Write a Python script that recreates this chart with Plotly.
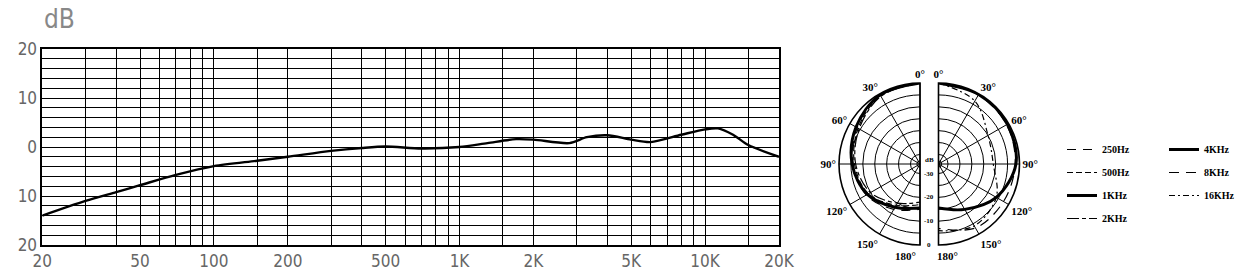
import numpy as np
import plotly.graph_objects as go

# ---------------- data ----------------
freq_hz = [20, 30, 40, 50, 70, 100, 150, 200, 300, 400, 500, 700, 1000, 1300, 1700,
           2000, 2800, 3300, 4000, 5000, 6000, 8000, 10000, 11300, 13000, 15000, 20000]
response_db = [-14.0, -11.0, -9.2, -7.8, -5.7, -3.9, -2.8, -2.0, -0.8, -0.2, 0.1, -0.3, 0.0,
               0.8, 1.6, 1.5, 0.8, 2.0, 2.4, 1.5, 1.0, 2.5, 3.6, 3.8, 2.5, 0.4, -2.0]

grid_freqs = [20, 30, 40, 50, 60, 70, 80, 90, 100, 150, 200, 300, 400, 500, 600, 700, 800, 900,
              1000, 1500, 2000, 3000, 4000, 5000, 6000, 7000, 8000, 9000, 10000, 15000, 20000]
freq_labels = {20: "20", 50: "50", 100: "100", 200: "200", 500: "500", 1000: "1K",
               2000: "2K", 5000: "5K", 10000: "10K", 20000: "20K"}
db_grid = list(range(-20, 21, 2))
db_labels = {-20: "20", -10: "10", 0: "0", 10: "10", 20: "20"}

polar_angles = [0, 30, 60, 90, 120, 150, 180]
left_series = {
    "250Hz": [0, -0.8, -3.5, -6.0, -8.0, -12.0, -15.0],
    "500Hz": [0, -1.0, -4.0, -6.5, -9.0, -14.0, -17.0],
    "1KHz":  [0, -0.5, -3.0, -5.5, -8.5, -13.0, -15.5],
    "2KHz":  [0, -1.2, -4.5, -7.0, -10.0, -15.0, -18.0],
}
right_series = {
    "4KHz":  [0, -0.3, -0.6, -1.5, -6.0, -12.0, -15.5],
    "8KHz":  [0, -0.5, -1.0, -1.8, -2.5, -3.0, -7.0],
    "16KHz": [0, -3.5, -10.0, -11.0, -6.0, -4.0, -6.0],
}
polar_db_min = -34
ring_db = [-32.7, -30, -25, -20, -15, -10, -5, 0]
ring_label_db = [-30, -20, -10, 0]
ring_label_text = ["-30", "-20", "-10", "0"]
angle_labels = ["0°", "30°", "60°", "90°", "120°", "150°", ""]
bottom_label = "180°"

styles = {
    "250Hz": dict(width=1.2, dash="9px,7px"),
    "500Hz": dict(width=1.2, dash="6px,3px"),
    "1KHz":  dict(width=3, dash="solid"),
    "2KHz":  dict(width=1.2, dash="12px,3px,4px,3px"),
    "4KHz":  dict(width=3, dash="solid"),
    "8KHz":  dict(width=1.2, dash="10px,7px"),
    "16KHz": dict(width=1.2, dash="6px,3px,2px,3px"),
}

W, H = 1239, 280
GRAY = "#666666"
TICKFONT = dict(family="DejaVu Sans Condensed", size=17, color=GRAY)
SERIF_B = dict(family="Liberation Serif, DejaVu Serif, serif", size=10, color="black", weight="bold")
SMALL_B = dict(family=SERIF_B["family"], size=7, color="black", weight="bold")
ANGFONT = dict(SERIF_B, size=11)

# polar subplot geometry (pixels; y measured from bottom of figure)
POL_Y0, POL_Y1 = 35, 197
POL_CY = (POL_Y0 + POL_Y1) / 2
POL_R = (POL_Y1 - POL_Y0) / 2
LEFT_X0, LEFT_X1 = 839, 920
RIGHT_X0, RIGHT_X1 = 938, 1020

fig = go.Figure()

fig.add_trace(go.Scatter(x=freq_hz, y=response_db, mode="lines",
                         line=dict(color="black", width=2.4, shape="spline", smoothing=0.8),
                         showlegend=False, hoverinfo="skip"))

for name, vals in left_series.items():
    fig.add_trace(go.Scatterpolar(theta=polar_angles, r=vals, subplot="polar", mode="lines",
                                  name=name, legend="legend", legendgroup=name,
                                  line=dict(color="black", shape="spline", **styles[name])))
for name, vals in right_series.items():
    fig.add_trace(go.Scatterpolar(theta=polar_angles, r=vals, subplot="polar2", mode="lines",
                                  name=name, legend="legend2", legendgroup=name,
                                  line=dict(color="black", shape="spline", **styles[name])))

annotations = [
    dict(text="dB", xref="paper", yref="paper", x=42 / W, y=1 - 19 / H,
         xanchor="left", yanchor="middle", showarrow=False,
         font=dict(family=TICKFONT["family"], size=26, color="#888888")),
    dict(text="dB", xref="paper", yref="paper", x=929 / W, y=(POL_CY + 4) / H,
         xanchor="center", yanchor="middle", showarrow=False, font=SMALL_B),
    dict(text=bottom_label, xref="paper", yref="paper", x=(LEFT_X1 - 2) / W,
         y=(POL_Y0 - 3) / H, xanchor="right", yanchor="top", showarrow=False, font=ANGFONT),
    dict(text=bottom_label, xref="paper", yref="paper", x=(RIGHT_X0 - 3) / W,
         y=(POL_Y0 - 3) / H, xanchor="left", yanchor="top", showarrow=False, font=ANGFONT),
]
for v, t in zip(ring_label_db, ring_label_text):
    rpx = POL_R * (v - polar_db_min) / (0 - polar_db_min)
    annotations.append(dict(text=t, xref="paper", yref="paper", x=929.5 / W,
                            y=(POL_CY - rpx) / H, xanchor="center", yanchor="middle",
                            showarrow=False, font=SMALL_B))

fig.update_layout(
    width=W, height=H, margin=dict(l=0, r=0, t=0, b=0, autoexpand=False),
    paper_bgcolor="white", plot_bgcolor="white",
    xaxis=dict(type="log", range=[np.log10(20), np.log10(20000)],
               domain=[42.3 / W, 779 / W],
               tickvals=grid_freqs, ticktext=[freq_labels.get(f, "") for f in grid_freqs],
               showgrid=True, gridcolor="black", gridwidth=1.4,
               showline=True, linecolor="black", linewidth=1.6, mirror=True,
               ticks="", tickfont=TICKFONT, zeroline=False, fixedrange=True),
    yaxis=dict(range=[-20, 20], domain=[35 / H, 231 / H],
               tickvals=db_grid, ticktext=[db_labels.get(v, "") for v in db_grid],
               showgrid=True, gridcolor="black", gridwidth=1.4,
               showline=True, linecolor="black", linewidth=1.6, mirror=True,
               ticks="", tickfont=TICKFONT, zeroline=False, fixedrange=True),
    annotations=annotations,
    showlegend=True,
    legend=dict(x=1062 / W, y=1 - 135 / H, xanchor="left", yanchor="top",
                orientation="v", tracegroupgap=4, font=SERIF_B, bgcolor="rgba(0,0,0,0)",
                itemclick=False, itemdoubleclick=False),
    legend2=dict(x=1164 / W, y=1 - 135 / H, xanchor="left", yanchor="top",
                 orientation="v", tracegroupgap=4, font=SERIF_B, bgcolor="rgba(0,0,0,0)",
                 itemclick=False, itemdoubleclick=False),
)

common_radial = dict(range=[polar_db_min, 0], tickvals=ring_db, showgrid=True, gridcolor="black",
                     gridwidth=1.3, showline=False, ticks="", showticklabels=False)
common_ang = dict(rotation=90, tickvals=polar_angles, ticktext=angle_labels,
                  showgrid=True, gridcolor="black", gridwidth=1.1,
                  showline=True, linecolor="black", linewidth=1.6, ticks="",
                  tickfont=ANGFONT)

fig.update_layout(
    polar=dict(domain=dict(x=[LEFT_X0 / W, LEFT_X1 / W], y=[POL_Y0 / H, POL_Y1 / H]),
               sector=[90, 270], bgcolor="white",
               radialaxis=common_radial,
               angularaxis=dict(direction="counterclockwise", **common_ang)),
    polar2=dict(domain=dict(x=[RIGHT_X0 / W, RIGHT_X1 / W], y=[POL_Y0 / H, POL_Y1 / H]),
                sector=[-90, 90], bgcolor="white",
                radialaxis=common_radial,
                angularaxis=dict(direction="clockwise", **common_ang)),
)

fig.write_html("out.html")
